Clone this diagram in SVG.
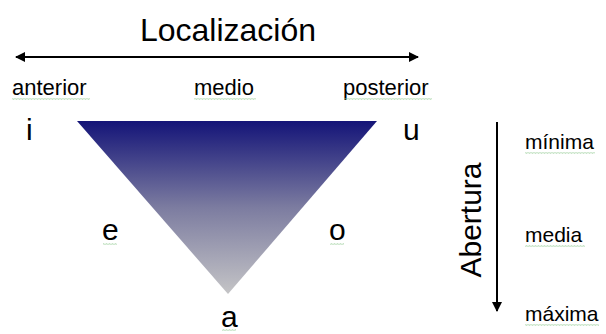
<svg xmlns="http://www.w3.org/2000/svg" width="606" height="334" viewBox="0 0 606 334">
<style>
text{font-family:"Liberation Sans",Arial,sans-serif;fill:#000}
.t{font-size:32px}
.l{font-size:22px}
.r{font-size:21px}
.v{font-size:30px}
.ln{stroke:#000;stroke-width:2;fill:none}
.sq{fill:url(#sq)}
</style>
<defs>
<linearGradient id="g" x1="0" y1="0" x2="0" y2="1">
<stop offset="0" stop-color="#141478"/>
<stop offset="0.5" stop-color="#7c7ca0"/>
<stop offset="1" stop-color="#c4c4c6"/>
</linearGradient>
<pattern id="sq" width="3" height="2" patternUnits="userSpaceOnUse">
<path d="M0 1.6 L0.75 0.4 L1.5 1.6 L2.25 0.4 L3 1.6" stroke="#9ccf9c" stroke-width="0.6" fill="none"/>
</pattern>
<marker id="ah" viewBox="0 0 10 10" refX="9" refY="5" markerWidth="5" markerHeight="5" orient="auto-start-reverse">
<path d="M0 0 L10 5 L0 10 z" fill="#000"/>
</marker>
</defs>
<g id="connectors">
<line class="ln" x1="16" y1="57" x2="418" y2="57" marker-start="url(#ah)" marker-end="url(#ah)"/>
<line class="ln" x1="497" y1="122" x2="497" y2="311" marker-end="url(#ah)"/>
</g>
<g id="title"><text class="t" x="228" y="41" text-anchor="middle">Localización</text></g>
<g id="triangle"><polygon points="77,121 377,121 228,294" fill="url(#g)"/></g>
<g id="anterior"><text class="l" x="12" y="95">anterior</text><rect class="sq" x="12" y="98" width="78" height="2"/></g>
<g id="medio"><text class="l" x="194" y="95">medio</text><rect class="sq" x="194" y="98" width="62" height="2"/></g>
<g id="posterior"><text class="l" x="343" y="95">posterior</text><rect class="sq" x="344" y="98" width="88" height="2"/></g>
<g id="i"><text class="v" x="26" y="140">i</text></g>
<g id="u"><text class="v" x="403" y="140">u</text></g>
<g id="e"><text class="v" x="102" y="240">e</text><rect class="sq" x="103" y="243" width="14" height="2"/></g>
<g id="o"><text class="v" x="329" y="240">o</text><rect class="sq" x="330" y="243" width="14" height="2"/></g>
<g id="a"><text class="v" x="221" y="327">a</text><rect class="sq" x="222" y="329" width="14" height="2"/></g>
<g id="abertura"><text class="v" transform="translate(481,220) rotate(-90)" text-anchor="middle">Abertura</text></g>
<g id="minima"><text class="r" x="525" y="149">mínima</text><rect class="sq" x="525" y="152" width="70" height="2"/></g>
<g id="media"><text class="r" x="525" y="242">media</text><rect class="sq" x="525" y="245" width="60" height="2"/></g>
<g id="maxima"><text class="r" x="525" y="321">máxima</text><rect class="sq" x="525" y="324" width="74" height="2"/></g>
</svg>
